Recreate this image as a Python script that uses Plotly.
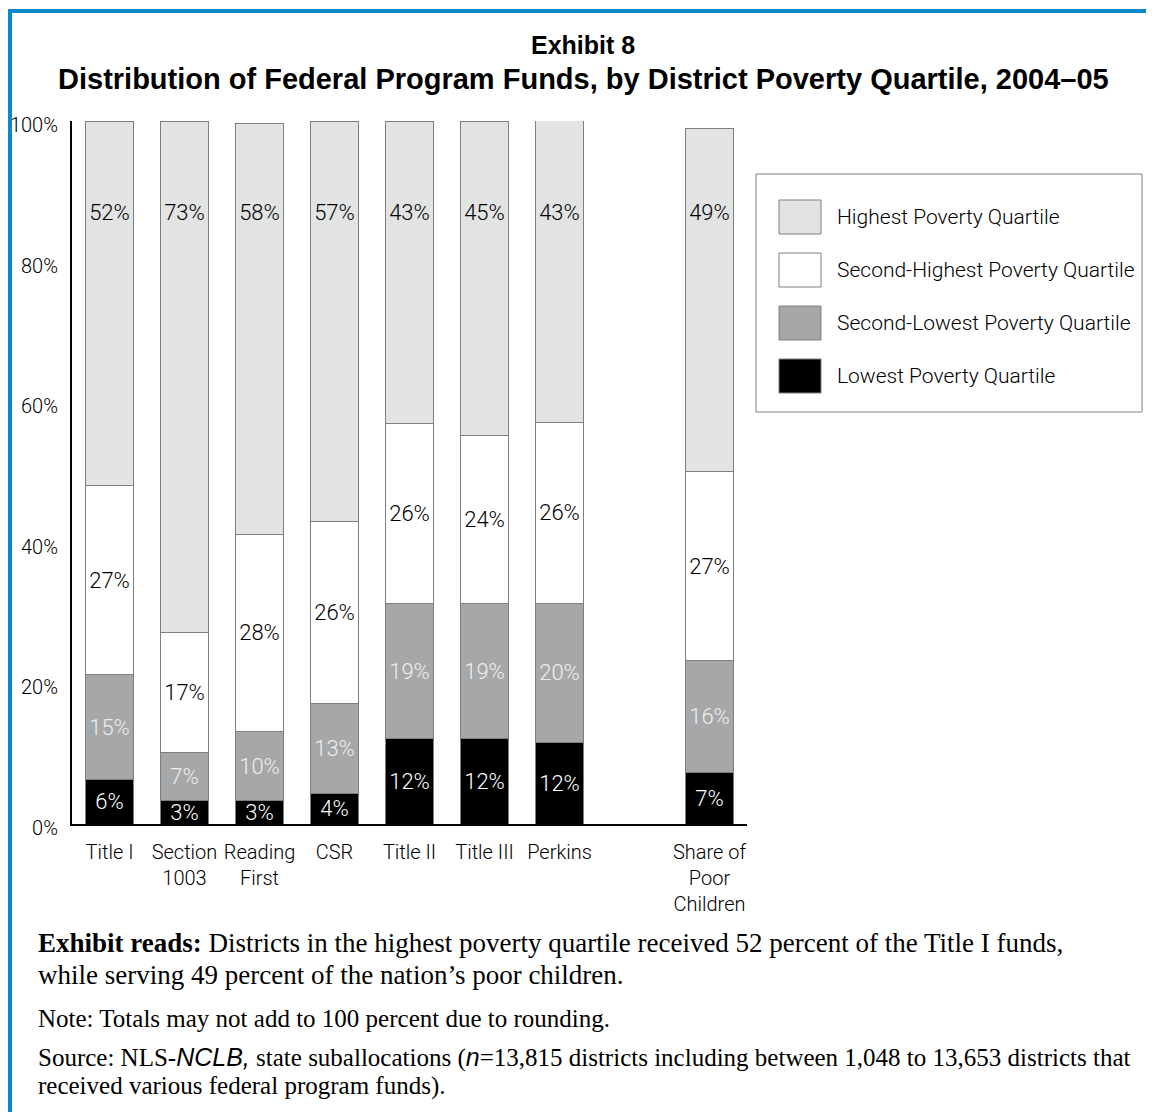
import plotly.graph_objects as go

# ---------------- data ----------------
categories = ["Title I", "Section 1003", "Reading First", "CSR",
              "Title II", "Title III", "Perkins", "Share of Poor Children"]
tick_labels = ["Title I", "Section<br>1003", "Reading<br>First", "CSR",
               "Title II", "Title III", "Perkins", "Share of<br>Poor<br>Children"]
series_names = ["Lowest Poverty Quartile", "Second-Lowest Poverty Quartile",
                "Second-Highest Poverty Quartile", "Highest Poverty Quartile"]
lowest = [6.3, 3.3, 3.3, 4.3, 12.2, 12.2, 11.6, 7.3]
second_lowest = [14.9, 6.9, 9.9, 12.9, 19.1, 19.1, 19.8, 15.9]
second_highest = [26.9, 17.0, 28.0, 25.9, 25.7, 23.9, 25.7, 26.9]
highest = [51.9, 72.8, 58.4, 56.9, 43.0, 44.8, 43.0, 48.9]
y_ticks = [0, 20, 40, 60, 80, 100]

# ---------------- styles ----------------
OFF = 8                       # page body margin of the html page
W, H = 1154 - OFF, 1112 - OFF  # figure size
PX0, PX1, PY0, PY1 = 72, 747, 121, 824   # plot area in page pixels
NARROW = "Roboto, Liberation Sans Narrow, Arial Narrow, sans-serif"
SANS = "Liberation Sans, Arial, sans-serif"
SERIF = "Liberation Serif, Times New Roman, serif"
fills = ["#000000", "#a6a7a9", "#ffffff", "#e2e3e3"]
text_cols = ["#ffffff", "#eeeeee", "#000000", "#000000"]
outline = "#7f7f7f"
BLUE = "#0a88c9"
TOP_LABEL_LEVEL = 86.7


def px(x):
    return (x - PX0) / (PX1 - PX0)


def py(y):
    return (PY1 - y) / (PY1 - PY0)


spacer = " "
cat_order = categories[:7] + [spacer] + categories[7:]

fig = go.Figure()
values = [lowest, second_lowest, second_highest, highest]
for i, (name, vals) in enumerate(zip(series_names, values)):
    show_text = i < 3
    fig.add_trace(go.Bar(
        x=categories, y=vals, name=name,
        marker=dict(color=fills[i], line=dict(color=outline, width=1)),
        texttemplate="%{y:.0f}%" if show_text else None,
        textposition="inside" if show_text else "none",
        insidetextanchor="middle",
        constraintext="none",
        textangle=0,
        textfont=dict(family=NARROW, size=22, color=text_cols[i], weight=300),
        showlegend=False, hoverinfo="skip",
    ))

# labels of the top segment, at a fixed height within the bar
fig.add_trace(go.Scatter(
    x=categories, y=[TOP_LABEL_LEVEL] * len(categories),
    mode="text", text=[f"{v:.0f}%" for v in highest],
    textfont=dict(family=NARROW, size=22, color="#000000", weight=300),
    showlegend=False, hoverinfo="skip",
))

fig.update_layout(
    width=W, height=H,
    margin=dict(l=PX0 - OFF, r=W - (PX1 - OFF), t=PY0 - OFF, b=H - (PY1 - OFF), pad=0),
    paper_bgcolor="white", plot_bgcolor="white",
    barmode="stack", bargap=0.373,
    showlegend=False,
    xaxis=dict(
        type="category", categoryorder="array", categoryarray=cat_order,
        range=[-0.5, len(cat_order) - 0.5],
        tickvals=categories, ticktext=tick_labels, tickangle=0,
        showline=True, linecolor="#000000", linewidth=2,
        showgrid=False, ticks="", ticklabelstandoff=9,
        tickfont=dict(family=NARROW, size=20, color="#000000", weight=300),
        fixedrange=True, automargin=False,
    ),
    yaxis=dict(
        range=[0, 100], tickvals=y_ticks, ticktext=[f"{v}%" for v in y_ticks],
        showline=True, linecolor="#000000", linewidth=2,
        showgrid=False, zeroline=False, ticks="",
        ticklabelstandoff=8, ticklabelshift=4,
        tickfont=dict(family=NARROW, size=20, color="#000000", weight=300),
        fixedrange=True, automargin=False,
    ),
)

shapes = []
annotations = []
# blue frame (top and left edges)
shapes.append(dict(type="line", xref="paper", yref="paper",
                   x0=px(8), x1=px(1160), y0=py(11), y1=py(11),
                   line=dict(color=BLUE, width=4)))
shapes.append(dict(type="line", xref="paper", yref="paper",
                   x0=px(10), x1=px(10), y0=py(9), y1=py(1120),
                   line=dict(color=BLUE, width=4)))

# title
annotations.append(dict(xref="paper", yref="paper", x=px(583), y=py(45),
                        xanchor="center", yanchor="middle", showarrow=False,
                        text="<b>Exhibit 8</b>",
                        font=dict(family=SANS, size=25, color="#000000")))
annotations.append(dict(xref="paper", yref="paper", x=px(583), y=py(79),
                        xanchor="center", yanchor="middle", showarrow=False,
                        text="<b>Distribution of Federal Program Funds, by District Poverty Quartile, 2004–05</b>",
                        font=dict(family=SANS, size=29, color="#000000")))

# legend box
shapes.append(dict(type="rect", xref="paper", yref="paper",
                   x0=px(756), x1=px(1142), y0=py(412), y1=py(174),
                   line=dict(color="#808080", width=1), fillcolor="rgba(0,0,0,0)"))
legend_order = [3, 2, 1, 0]
for k, idx in enumerate(legend_order):
    cy = 217 + 53 * k
    shapes.append(dict(type="rect", xref="paper", yref="paper",
                       x0=px(779), x1=px(821), y0=py(cy + 17), y1=py(cy - 17),
                       line=dict(color="#808080", width=1), fillcolor=fills[idx]))
    annotations.append(dict(xref="paper", yref="paper", x=px(835), y=py(cy),
                            xanchor="left", yanchor="middle", showarrow=False,
                            text=series_names[idx],
                            font=dict(family=NARROW, size=21, color="#000000", weight=300)))

# footer text, one annotation per printed line
footer_lines = [
    ("<b>Exhibit reads:</b> Districts in the highest poverty quartile received 52 percent of the Title I funds,", 943, 27),
    ("while serving 49 percent of the nation’s poor children.", 975, 27),
    ("Note: Totals may not add to 100 percent due to rounding.", 1019, 25),
    ("Source: NLS-<span style=\"font-family:Liberation Sans, Arial, sans-serif\"><i>NCLB,</i></span> state suballocations "
     "(<span style=\"font-family:Liberation Sans, Arial, sans-serif\"><i>n</i></span>=13,815 districts including between 1,048 to 13,653 districts that", 1057, 25),
    ("received various federal program funds).", 1086, 25),
]
for text, cy, size in footer_lines:
    annotations.append(dict(xref="paper", yref="paper", x=px(36), y=py(cy),
                            xanchor="left", yanchor="middle", showarrow=False,
                            align="left", text=text,
                            font=dict(family=SERIF, size=size, color="#000000")))

fig.update_layout(shapes=shapes, annotations=annotations)
fig.write_html("out.html", config={"displayModeBar": False, "staticPlot": True})
